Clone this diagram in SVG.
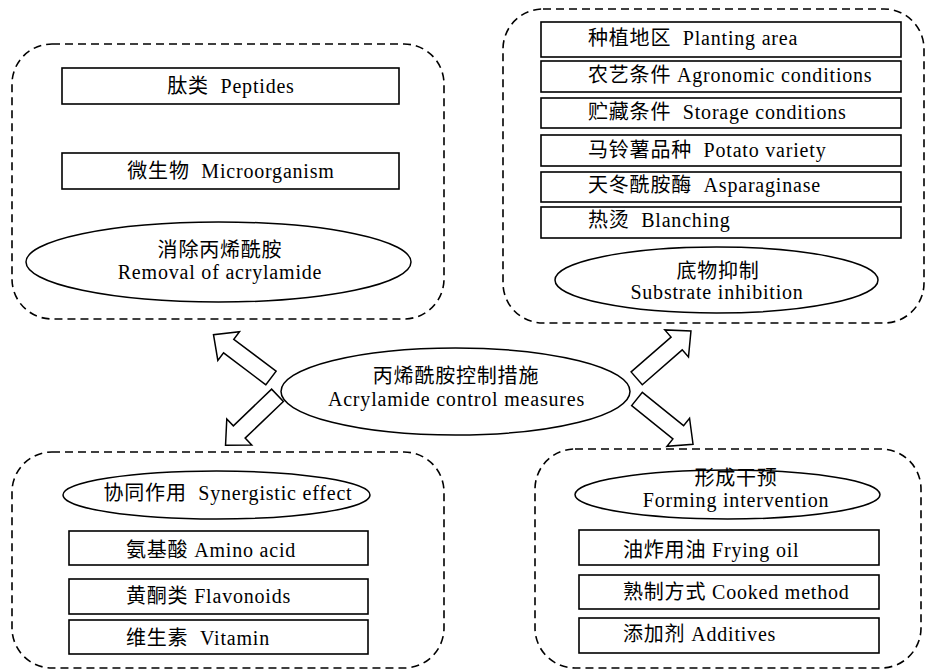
<svg xmlns="http://www.w3.org/2000/svg" xmlns:xlink="http://www.w3.org/1999/xlink" width="926" height="670" viewBox="0 0 926 670">
<style>
.panel{fill:none;stroke:#000;stroke-width:1.6;stroke-dasharray:8 5}
.box{fill:#fff;stroke:#000;stroke-width:1.6}
.ell{fill:#fff;stroke:#000;stroke-width:1.5}
.arr{fill:#fff;stroke:#000;stroke-width:1.5;stroke-linejoin:miter}
text{font-family:"Liberation Serif","Noto Sans CJK SC",serif;font-size:20px;letter-spacing:0.8px;fill:#000}
.c{text-anchor:middle}
</style>
<defs>
<polygon id="blk" points="0,-8.5 53,-8.5 53,-18 72,0 53,18 53,8.5 0,8.5"/>
</defs>
<rect width="926" height="670" fill="#fff"/>

<g id="removal">
<rect class="panel" x="12" y="44" width="432" height="275" rx="40"/>
<g id="peptides"><rect class="box" x="62" y="68" width="337" height="36"/><text class="c" x="231" y="93">肽类&#160; Peptides</text></g>
<g id="microorganism"><rect class="box" x="62" y="153" width="337" height="36"/><text class="c" x="231" y="178">微生物&#160; Microorganism</text></g>
<g id="removal-ellipse"><ellipse class="ell" cx="218.5" cy="262" rx="192.5" ry="40"/>
<text class="c" x="220" y="257">消除丙烯酰胺</text>
<text class="c" x="220" y="279">Removal of acrylamide</text></g>
</g>

<g id="substrate">
<rect class="panel" x="503" y="9" width="421" height="314" rx="40"/>
<g id="planting"><rect class="box" x="541" y="22" width="360" height="35"/><text x="588" y="45">种植地区&#160; Planting area</text></g>
<g id="agronomic"><rect class="box" x="541" y="61" width="360" height="31"/><text x="588" y="82">农艺条件 Agronomic conditions</text></g>
<g id="storage"><rect class="box" x="541" y="98" width="360" height="30"/><text x="588" y="119">贮藏条件&#160; Storage conditions</text></g>
<g id="variety"><rect class="box" x="541" y="135" width="360" height="31"/><text x="588" y="157">马铃薯品种&#160; Potato variety</text></g>
<g id="asparaginase"><rect class="box" x="541" y="172" width="360" height="30"/><text x="588" y="192">天冬酰胺酶&#160; Asparaginase</text></g>
<g id="blanching"><rect class="box" x="541" y="207" width="360" height="31"/><text x="588" y="227">热烫&#160; Blanching</text></g>
<g id="substrate-ellipse"><ellipse class="ell" cx="716.5" cy="280" rx="161.5" ry="33"/>
<text class="c" x="718" y="278">底物抑制</text>
<text class="c" x="717" y="299">Substrate inhibition</text></g>
</g>

<g id="center">
<ellipse class="ell" cx="455.5" cy="391.5" rx="174.5" ry="43.5"/>
<text class="c" x="456" y="383">丙烯酰胺控制措施</text>
<text class="c" x="456.5" y="406">Acrylamide control measures</text>
</g>

<g id="synergy">
<rect class="panel" x="12" y="452" width="432" height="216" rx="40"/>
<g id="synergy-ellipse"><ellipse class="ell" cx="216.5" cy="495" rx="153.5" ry="24"/>
<text class="c" x="228" y="500">协同作用&#160; Synergistic effect</text></g>
<g id="amino"><rect class="box" x="69" y="531" width="299" height="34"/><text x="126" y="557">氨基酸 Amino acid</text></g>
<g id="flavonoids"><rect class="box" x="69" y="579" width="299" height="35"/><text x="126" y="603">黄酮类 Flavonoids</text></g>
<g id="vitamin"><rect class="box" x="69" y="620" width="299" height="34"/><text x="126" y="645">维生素&#160; Vitamin</text></g>
</g>

<g id="forming">
<rect class="panel" x="535" y="449" width="386" height="219" rx="40"/>
<g id="forming-ellipse"><ellipse class="ell" cx="727.5" cy="494.5" rx="152.5" ry="24.5"/>
<text class="c" x="736" y="485">形成干预</text>
<text class="c" x="736" y="507">Forming intervention</text></g>
<g id="frying"><rect class="box" x="579" y="530" width="300" height="35"/><text x="623" y="557">油炸用油 Frying oil</text></g>
<g id="cooked"><rect class="box" x="579" y="575" width="300" height="34"/><text x="623" y="599">熟制方式 Cooked method</text></g>
<g id="additives"><rect class="box" x="579" y="618" width="300" height="35"/><text x="623" y="641">添加剂 Additives</text></g>
</g>

<g id="connectors">
<use class="arr" xlink:href="#blk" href="#blk" transform="translate(271,378) rotate(217)"/>
<use class="arr" xlink:href="#blk" href="#blk" transform="translate(277.5,395.3) rotate(136.2)"/>
<use class="arr" xlink:href="#blk" href="#blk" transform="translate(636.7,378.3) rotate(-41.1)"/>
<use class="arr" xlink:href="#blk" href="#blk" transform="translate(637,399) rotate(38.9)"/>
</g>
</svg>
